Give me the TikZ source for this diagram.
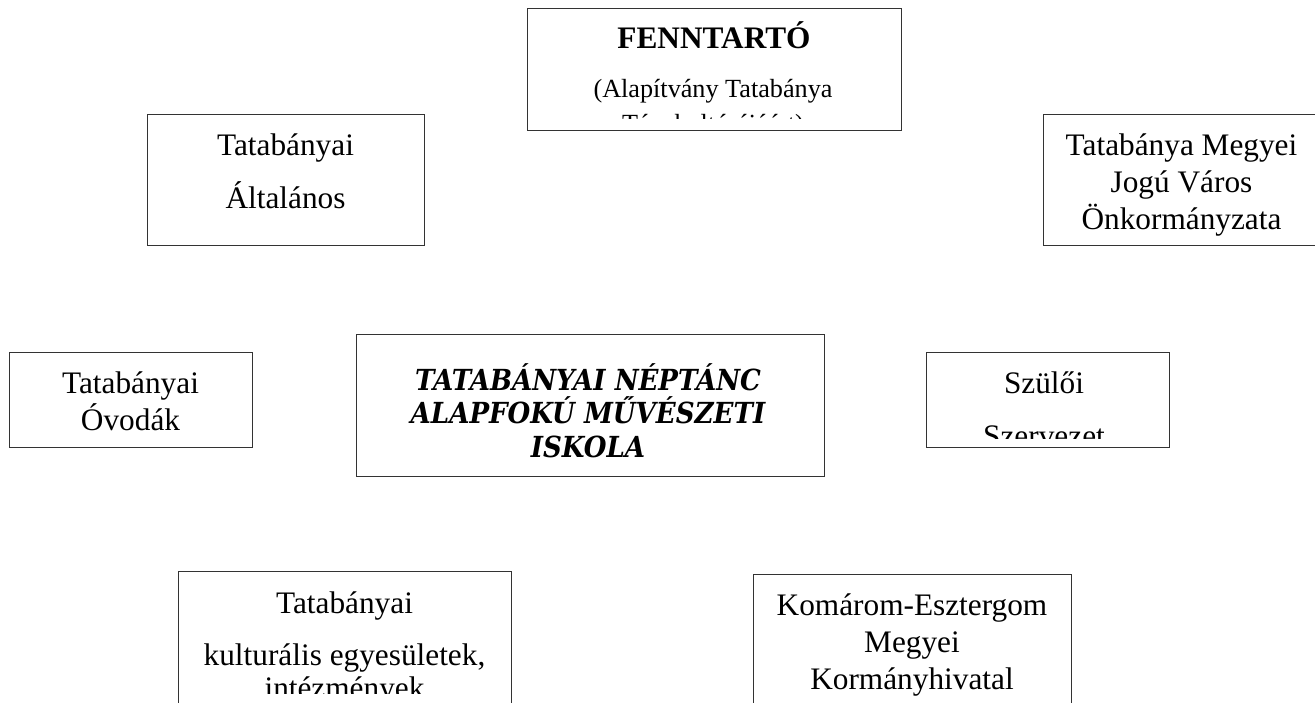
\documentclass[tikz,border=0pt]{standalone}
\usepackage{fontspec}
\setmainfont{Liberation Serif}
\newfontfamily\iskolafont[FakeStretch=0.9]{DejaVu Serif}

\begin{document}
\begin{tikzpicture}[x=1pt,y=-1pt]
\tikzstyle{doboz}=[
	rectangle,
	draw=black!80,
	line width=1.2pt,
	inner sep=0pt,
	anchor=north west ]
\tikzstyle{sor}=[anchor=base, inner sep=0pt, font=\fontsize{31.3}{37}\selectfont]
\useasboundingbox (0,0) rectangle (1315,702);
\clip (0,0) rectangle (1315,702);

% fenntarto
\node[doboz, minimum width=374pt, minimum height=122pt] (fenntarto) at (527,8) {};
\begin{scope}
\clip (527,8) rectangle (901,118);
\node[sor, font=\fontsize{31.3}{37}\selectfont\bfseries] (fenntarto-1) at (714,48) {FENNTARTÓ};
\node[sor, font=\fontsize{26.2}{31}\selectfont] (fenntarto-2) at (713,97) {(Alapítvány Tatabánya};
\node[sor, font=\fontsize{26.2}{31}\selectfont] (fenntarto-3) at (713,132) {Tánckultúrájáért)};
\end{scope}

% altalanos
\node[doboz, minimum width=277pt, minimum height=131pt] (altalanos) at (147,114) {};
\foreach \s [count=\i] in {Tatabányai, Általános}
	\node[sor] (altalanos-\i) at (285.5,102+53*\i) {\s};

% onkormanyzat
\node[doboz, minimum width=277pt, minimum height=131pt] (onkormanyzat) at (1043,114) {};
\foreach \s [count=\i] in {Tatabánya Megyei, Jogú Város, Önkormányzata}
	\node[sor] (onkormanyzat-\i) at (1181.5,118+37*\i) {\s};

% ovodak
\node[doboz, minimum width=243pt, minimum height=95pt] (ovodak) at (9,352) {};
\foreach \s [count=\i] in {Tatabányai, Óvodák}
	\node[sor] (ovodak-\i) at (130.5,356+37*\i) {\s};

% iskola
\node[doboz, minimum width=468pt, minimum height=142pt] (iskola) at (356,334) {};
\foreach \s [count=\i] in {TATABÁNYAI NÉPTÁNC, ALAPFOKÚ MŰVÉSZETI, ISKOLA}
	\node[sor, font=\iskolafont\bfseries\itshape\fontsize{29}{34}\selectfont] (iskola-\i) at (588,356.5+33.5*\i) {\s};

% szuloi
\node[doboz, minimum width=243pt, minimum height=95pt] (szuloi) at (926,352) {};
\begin{scope}
\clip (926,352) rectangle (1169,438);
\foreach \s [count=\i] in {Szülői, Szervezet}
	\node[sor] (szuloi-\i) at (1044,340+53*\i) {\s};
\end{scope}

% kulturalis
\node[doboz, minimum width=333pt, minimum height=160pt] (kulturalis) at (178,571) {};
\begin{scope}
\clip (178,571) rectangle (511,693);
\node[sor] (kulturalis-1) at (344.5,613) {Tatabányai};
\node[sor] (kulturalis-2) at (344.5,665) {kulturális egyesületek,};
\node[sor] (kulturalis-3) at (344.5,698) {intézmények};
\end{scope}

% komarom
\node[doboz, minimum width=318pt, minimum height=160pt] (komarom) at (753,574) {};
\foreach \s [count=\i] in {Komárom-Esztergom, Megyei, Kormányhivatal}
	\node[sor] (komarom-\i) at (912,578+37*\i) {\s};
\end{tikzpicture}
\end{document}
